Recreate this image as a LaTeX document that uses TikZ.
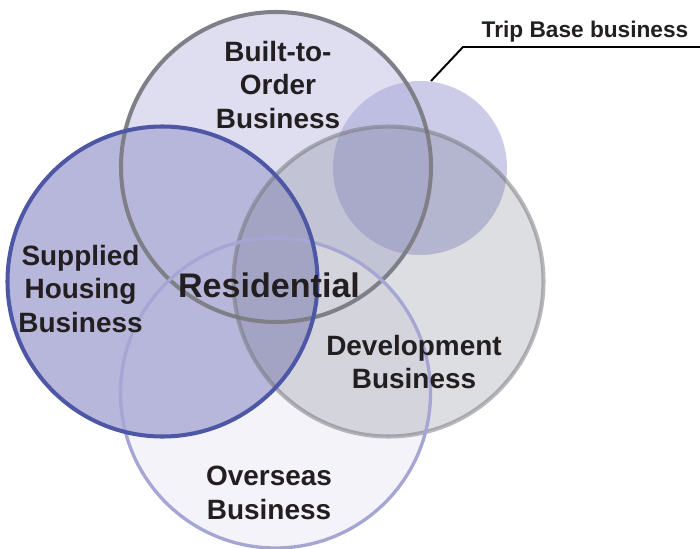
\documentclass[tikz,border=0pt]{standalone}
\usepackage{fontspec}
\setmainfont{Liberation Sans}
\definecolor{inkdark}{HTML}{231F20}
\definecolor{builtfill}{HTML}{DEDEF0}
\definecolor{overseasfill}{HTML}{F3F3F9}
\definecolor{suppliedfill}{HTML}{B7B7DB}
\definecolor{devfill}{RGB}{85,90,105}
\definecolor{tripfill}{RGB}{170,170,217}
\definecolor{builtline}{HTML}{7F7F87}
\definecolor{suppliedline}{HTML}{4E57A5}
\definecolor{devline}{RGB}{115,115,121}
\definecolor{overseasline}{HTML}{A6A6D4}

\begin{document}
\begin{tikzpicture}[scale=0.2]
  \tikzstyle{every node}+=[inner sep=0pt, text=inkdark]
  \tikzstyle{bizname}=[align=center, font=\fontsize{15.9}{19}\selectfont\bfseries]
  \tikzstyle{ring}=[line width=2.3pt]
  \useasboundingbox (0,0) rectangle (70,-54.8);
  % fills
  \fill [builtfill] (27.6,-16.7) circle (15.5);
  \fill [overseasfill] (27.55,-39.3) circle (15.5);
  \fill [suppliedfill] (16.25,-28.15) circle (15.5);
  \fill [tripfill, fill opacity=0.6] (42,-16.8) circle (8.7);
  \fill [devfill, fill opacity=0.2] (38.85,-28.15) circle (15.5);
  % outlines
  \draw [ring, builtline] (27.6,-16.7) circle (15.5);
  \draw [ring, devline, draw opacity=0.5] (38.85,-28.15) circle (15.5);
  \draw [ring, overseasline, line width=1.9pt] (27.55,-39.3) circle (15.5);
  \draw [ring, suppliedline] (16.25,-28.15) circle (15.5);
  % labels
  \node (builtname) at (27.8,-8.5) [bizname] {Built-to-\\Order\\Business};
  \node (suppliedname) at (8.05,-28.9) [bizname] {Supplied\\Housing\\Business};
  \node (devname) at (41.4,-36.2) [bizname] {Development\\Business};
  \node (overseasname) at (26.9,-49.3) [bizname] {Overseas\\Business};
  \node (resname) at (26.9,-28.5) [font=\fontsize{19.4}{23}\selectfont\bfseries] {Residential};
  % leader
  \coordinate (tripedge) at (43.1,-8.1);
  \coordinate (bend) at (46.3,-4.7);
  \coordinate (lineend) at (70,-4.7);
  \draw [black, line width=1.1pt] (tripedge) -- (bend) -- (lineend);
  \node (tripname) at (58.5,-3.8) [anchor=base, font=\fontsize{12.9}{15}\selectfont\bfseries] {Trip Base business};
\end{tikzpicture}
\end{document}
